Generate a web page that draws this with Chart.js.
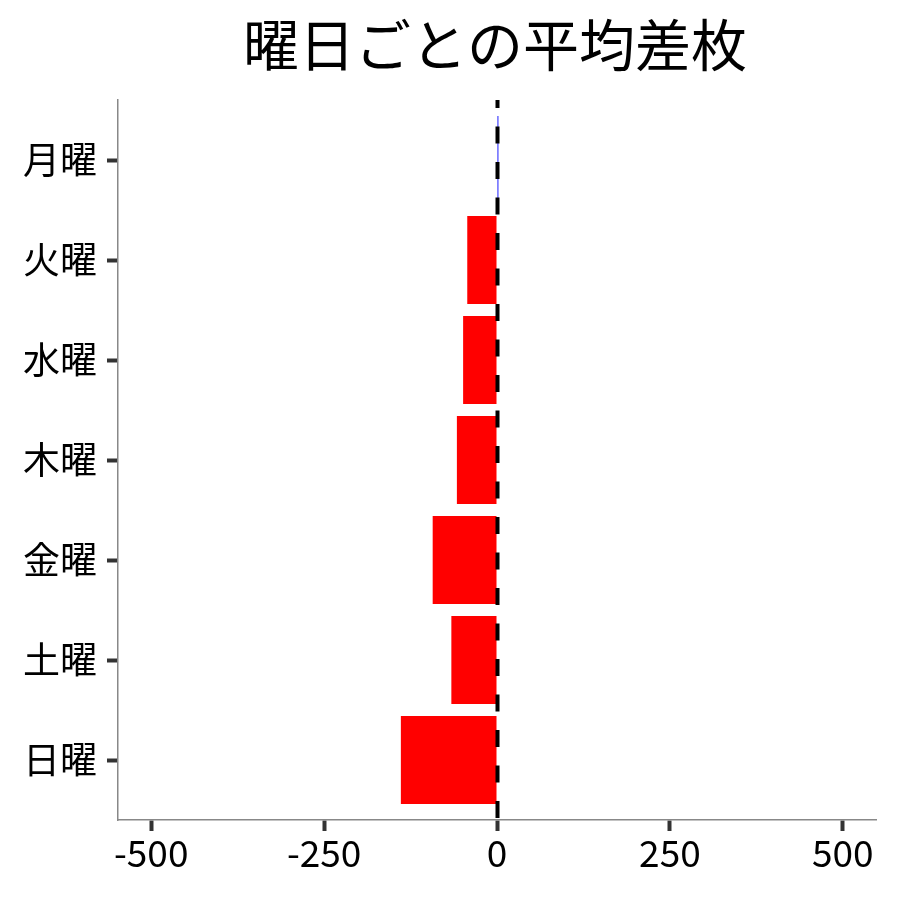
<!DOCTYPE html>
<html>
<head>
<meta charset="utf-8">
<script src="https://cdn.jsdelivr.net/npm/chart.js@4"></script>
<style>
  html, body { margin: 0; padding: 0; background: #fff; }
  #wrap { width: 900px; height: 900px; }
</style>
</head>
<body>
<div id="wrap"><canvas id="c"></canvas></div>
<script>
// ── données ──
const titre = '曜日ごとの平均差枚';
const jours = ['月曜', '火曜', '水曜', '木曜', '金曜', '土曜', '日曜'];
const diffMoyenne = [2, -43, -49, -58, -93, -66, -139];
const ticksX = [-500, -250, 0, 250, 500];

const FONT = "'Noto Sans CJK JP', 'Noto Sans', sans-serif";

// ligne pointillée sur x = 0 + titre centré sur la zone du graphique
const zeroLine = {
  id: 'zeroLine',
  afterDatasetsDraw(chart) {
    const { ctx, chartArea, scales } = chart;
    const x = scales.x.getPixelForValue(0) + 0.5;
    ctx.save();
    ctx.strokeStyle = '#000';
    ctx.lineWidth = 4;
    ctx.setLineDash([17, 18.5]);
    ctx.lineDashOffset = 9;
    ctx.beginPath();
    ctx.moveTo(x, chartArea.top);
    ctx.lineTo(x, chartArea.bottom);
    ctx.stroke();
    ctx.restore();
  },
  afterDraw(chart) {
    const { ctx, chartArea } = chart;
    ctx.save();
    ctx.fillStyle = '#000';
    ctx.font = `56px ${FONT}`;
    ctx.textAlign = 'center';
    ctx.textBaseline = 'middle';
    ctx.fillText(titre, (chartArea.left + chartArea.right) / 2 - 2, 45);
    ctx.restore();
  }
};

new Chart(document.getElementById('c'), {
  type: 'bar',
  data: {
    datasets: [{
      data: diffMoyenne.map((v, i) => ({ x: v, y: i + 1 })),
      backgroundColor: diffMoyenne.map(v => v >= 0 ? '#0000ff' : '#ff0000'),
      borderWidth: 0,
      barPercentage: 0.88,
      categoryPercentage: 1
    }]
  },
  options: {
    indexAxis: 'y',
    responsive: true,
    maintainAspectRatio: false,
    animation: false,
    layout: { padding: { top: 100, right: 24, left: 0, bottom: 0 } },
    plugins: { legend: { display: false }, tooltip: { enabled: false } },
    scales: {
      x: {
        type: 'linear',
        min: -548,
        max: 548,
        afterBuildTicks: s => { s.ticks = ticksX.map(v => ({ value: v })); },
        afterFit: s => { s.height = 80; },
        ticks: { color: '#000', font: { family: FONT, size: 37 }, padding: 0, maxRotation: 0 },
        grid: { drawOnChartArea: false, tickLength: 11, tickWidth: 4, tickColor: '#333' },
        border: { color: '#888', width: 1.5 }
      },
      y: {
        type: 'linear',
        reverse: true,
        offset: false,
        min: 0.4,
        max: 7.6,
        afterBuildTicks: s => { s.ticks = jours.map((_, i) => ({ value: i + 1 })); },
        afterFit: s => { s.width = 118; },
        ticks: {
          color: '#000',
          font: { family: FONT, size: 37 },
          padding: 10,
          callback: v => jours[v - 1]
        },
        grid: { offset: false, drawOnChartArea: false, tickLength: 11, tickWidth: 4, tickColor: '#333' },
        border: { color: '#888', width: 1.5 }
      }
    }
  },
  plugins: [zeroLine]
});
</script>
</body>
</html>
